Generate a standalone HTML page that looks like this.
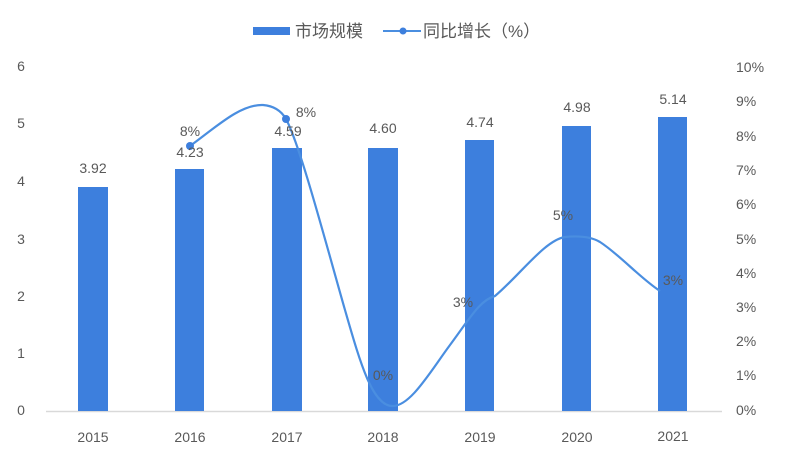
<!DOCTYPE html>
<html><head><meta charset="utf-8"><style>
html,body{margin:0;padding:0;background:#fff;}
svg{display:block;}
text{font-family:"Liberation Sans","Noto Sans CJK SC",sans-serif;fill:#595959;}
</style></head><body>
<svg width="800" height="453" viewBox="0 0 800 453" xmlns="http://www.w3.org/2000/svg">
<rect width="800" height="453" fill="#fff"/>
<!-- legend -->
<rect x="253" y="27" width="37" height="8" fill="#3d7fdd"/>
<text x="295" y="37" font-size="17">市场规模</text>
<line x1="383" y1="31" x2="421" y2="31" stroke="#4a8ee0" stroke-width="2"/>
<circle cx="403" cy="31" r="3.5" fill="#3d7fdd"/>
<text x="423" y="37" font-size="17">同比增长（%）</text>
<!-- left axis -->
<g font-size="14" text-anchor="middle">
<text x="21" y="71">6</text>
<text x="21" y="128">5</text>
<text x="21" y="186">4</text>
<text x="21" y="244">3</text>
<text x="21" y="301">2</text>
<text x="21" y="358">1</text>
<text x="21" y="415">0</text>
</g>
<!-- right axis -->
<g font-size="14" text-anchor="start">
<text x="736" y="72">10%</text>
<text x="736" y="106">9%</text>
<text x="736" y="141">8%</text>
<text x="736" y="175">7%</text>
<text x="736" y="209">6%</text>
<text x="736" y="244">5%</text>
<text x="736" y="278">4%</text>
<text x="736" y="312">3%</text>
<text x="736" y="346">2%</text>
<text x="736" y="380">1%</text>
<text x="736" y="415">0%</text>
</g>
<!-- axis line -->
<line x1="46" y1="411.5" x2="722" y2="411.5" stroke="#d9d9d9" stroke-width="1.5"/>
<!-- bars -->
<g fill="#3d7fdd">
<rect x="78" y="187" width="30" height="224"/>
<rect x="175" y="169" width="29" height="242"/>
<rect x="272" y="148" width="30" height="263"/>
<rect x="368" y="148" width="30" height="263"/>
<rect x="465" y="140" width="29" height="271"/>
<rect x="562" y="126" width="29" height="285"/>
<rect x="658" y="117" width="29" height="294"/>
</g>
<!-- line -->
<path d="M190,146 C215,128 240,104 263,105 C275,106 282,112 286,119 C300,145 325,240 345,310 C360,362 372,405 392,406 C410,407 430,372 450,345 C470,318 480,300 495,296 C520,275 545,240 565,237 C575,236 590,236 600,242 C620,255 640,278 660,291" fill="none" stroke="#4a8ee0" stroke-width="2.2"/>
<circle cx="190" cy="146" r="4" fill="#3d7fdd"/>
<circle cx="286" cy="119" r="4" fill="#3d7fdd"/>
<!-- bar labels -->
<g font-size="14" text-anchor="middle">
<text x="93" y="173">3.92</text>
<text x="190" y="157">4.23</text>
<text x="288" y="136">4.59</text>
<text x="383" y="133">4.60</text>
<text x="480" y="127">4.74</text>
<text x="577" y="112">4.98</text>
<text x="673" y="104">5.14</text>
</g>
<!-- percent labels -->
<g font-size="14" text-anchor="middle">
<text x="190" y="136">8%</text>
<text x="306" y="117">8%</text>
<text x="383" y="380">0%</text>
<text x="463" y="307">3%</text>
<text x="563" y="220">5%</text>
<text x="673" y="285">3%</text>
</g>
<!-- x labels -->
<g font-size="14" text-anchor="middle">
<text x="93" y="442">2015</text>
<text x="190" y="442">2016</text>
<text x="287" y="442">2017</text>
<text x="383" y="442">2018</text>
<text x="480" y="442">2019</text>
<text x="577" y="442">2020</text>
<text x="673" y="441">2021</text>
</g>
</svg>
</body></html>
